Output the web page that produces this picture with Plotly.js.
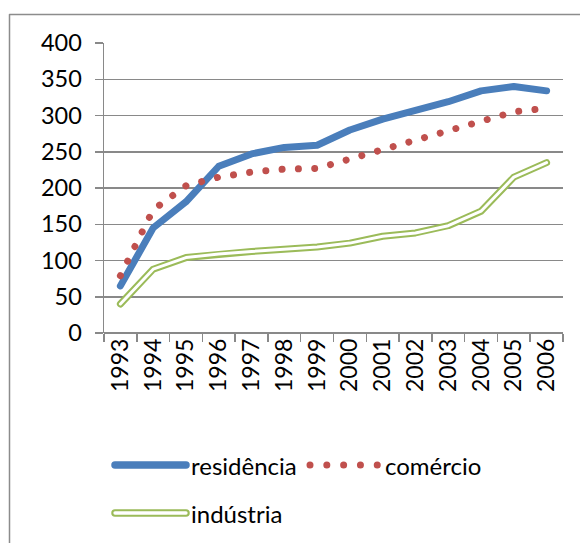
<!DOCTYPE html>
<html>
<head>
<meta charset="utf-8">
<script src="https://cdn.plot.ly/plotly-3.0.1.min.js"></script>
<style>
  html, body { margin: 0; padding: 0; background: #ffffff; }
  #chart { width: 580px; height: 543px; }
</style>
</head>
<body>
<div id="chart"></div>
<script>
// ---- data ----
const years = ["1993","1994","1995","1996","1997","1998","1999","2000","2001","2002","2003","2004","2005","2006"];
const residencia = [65, 145, 181, 230, 247, 256, 259, 280, 295, 306, 319, 334, 340, 334];
const comercio   = [79, 170, 203, 215, 222, 226, 227, 240, 254, 268, 279, 293, 305, 310];
const industria  = [40, 88, 104, 109, 112.5, 115.5, 118.5, 124, 133.5, 138, 148, 168, 215, 235];
const seriesNames = ["residência", "comércio", "indústria"];
const yTicks = [0, 50, 100, 150, 200, 250, 300, 350, 400];

// ---- styling ----
const BLUE = "#4A7EBB", RED = "#C0504D", GREEN = "#9BBB59", GRID = "#898989";
const FONT = "Lato, 'Open Sans', sans-serif";
const W = 580, H = 543;
const M = {l: 104, r: 17, t: 43, b: 210};
const DOTS = "0.01px,16.3px";

// convert page pixels to paper coords (for legend/frame decoration only)
const px = x => (x - M.l) / (W - M.l - M.r);
const py = y => (H - M.b - y) / (H - M.t - M.b);

const traces = [
  {x: years, y: residencia, name: seriesNames[0], mode: "lines",
   line: {color: BLUE, width: 7}, showlegend: false, hoverinfo: "skip"},
  {x: years, y: comercio, name: seriesNames[1], mode: "lines",
   line: {color: RED, width: 7, dash: DOTS}, showlegend: false, hoverinfo: "skip"},
  {x: years, y: industria, name: seriesNames[2], mode: "lines",
   line: {color: GREEN, width: 7}, showlegend: false, hoverinfo: "skip"},
  {x: years, y: industria, name: seriesNames[2] + " inner", mode: "lines",
   line: {color: "#ffffff", width: 3}, showlegend: false, hoverinfo: "skip"}
];

// legend drawn as decorations
const legRow1 = 465, legRow2 = 513;
const shapes = [
  {type: "rect", xref: "paper", yref: "paper", x0: px(9.5), x1: px(600), y0: py(14.5), y1: py(600),
   line: {color: "#8c8c8c", width: 1.5}, layer: "below"},
  {type: "line", xref: "paper", yref: "paper", x0: px(115), x1: px(186), y0: py(legRow1), y1: py(legRow1),
   line: {color: BLUE, width: 7.5}},
  {type: "line", xref: "paper", yref: "paper", x0: px(310), x1: px(377.5), y0: py(legRow1), y1: py(legRow1),
   line: {color: RED, width: 7, dash: "0.01px,16.8px"}},
  {type: "line", xref: "paper", yref: "paper", x0: px(115), x1: px(186), y0: py(legRow2), y1: py(legRow2),
   line: {color: GREEN, width: 7.5}},
  {type: "line", xref: "paper", yref: "paper", x0: px(115), x1: px(186), y0: py(legRow2), y1: py(legRow2),
   line: {color: "#ffffff", width: 3.3}}
];
const legFont = {family: FONT, size: 24, color: "#000000"};
const annotations = [
  {text: seriesNames[0], xref: "paper", yref: "paper", x: px(189), y: py(legRow1), xanchor: "left", yanchor: "middle", showarrow: false, font: legFont},
  {text: seriesNames[1], xref: "paper", yref: "paper", x: px(383), y: py(legRow1), xanchor: "left", yanchor: "middle", showarrow: false, font: legFont},
  {text: seriesNames[2], xref: "paper", yref: "paper", x: px(189), y: py(legRow2), xanchor: "left", yanchor: "middle", showarrow: false, font: legFont}
];

const layout = {
  width: W, height: H,
  margin: M,
  paper_bgcolor: "#ffffff", plot_bgcolor: "#ffffff",
  showlegend: false,
  font: {family: FONT, size: 23, color: "#000000"},
  xaxis: {
    type: "category", range: [-0.5, 13.5], fixedrange: true,
    tickangle: -90, tickson: "boundaries", ticks: "outside", ticklen: 8, tickwidth: 1.5, tickcolor: GRID,
    showgrid: false, showline: false, zeroline: false,
    tickfont: {family: FONT, size: 23, color: "#000000"}
  },
  yaxis: {
    range: [0, 400], tickvals: yTicks, ticktext: yTicks.map(String), fixedrange: true,
    ticks: "outside", ticklen: 8, tickwidth: 1.5, tickcolor: GRID,
    showgrid: true, gridcolor: GRID, gridwidth: 1.5,
    showline: true, linecolor: GRID, linewidth: 1.5,
    zeroline: true, zerolinecolor: GRID, zerolinewidth: 1.5,
    ticklabelstandoff: 8,
    tickfont: {family: FONT, size: 23.5, color: "#000000"}
  },
  shapes: shapes,
  annotations: annotations
};

function roundCaps() {
  document.querySelectorAll(".scatterlayer .js-line, .shapelayer path").forEach(p => {
    p.style.strokeLinecap = "round";
    p.style.strokeLinejoin = "round";
  });
}

Plotly.newPlot("chart", traces, layout, {staticPlot: true, displayModeBar: false}).then(roundCaps);
</script>
</body>
</html>
